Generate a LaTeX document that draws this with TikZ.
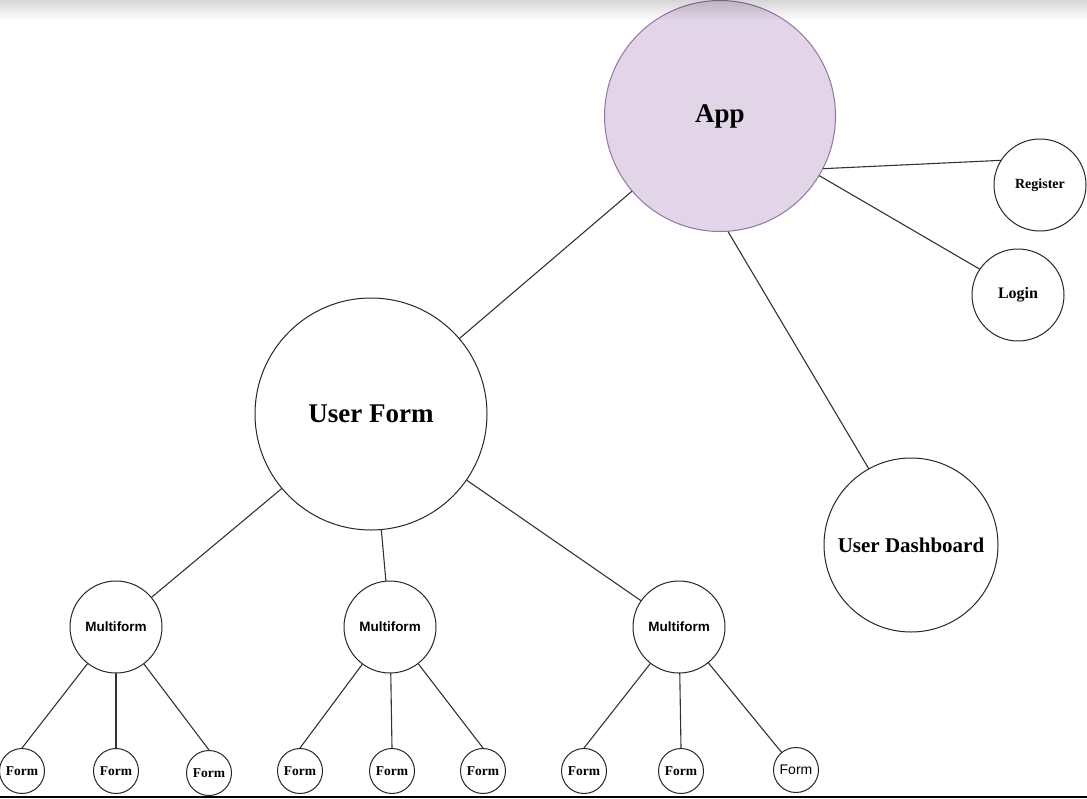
\documentclass[tikz,border=0pt]{standalone}
\usepackage{fontspec}
\setmainfont{Liberation Serif}
\newfontfamily\arialfont{Liberation Sans}
\definecolor{appfill}{HTML}{E1D5E7}
\definecolor{appline}{HTML}{9673A6}
\begin{document}
\begin{tikzpicture}[x=1pt, y=-1pt, line join=round, line cap=round,
    bubble/.style={circle, draw=black!85, line width=1pt, inner sep=0pt, fill=white},
    link/.style={draw=black!80, line width=1.1pt},
    formnode/.style={bubble, minimum size=45pt, font=\fontsize{13.5}{15}\selectfont\bfseries},
    multinode/.style={bubble, minimum size=92pt, font=\arialfont\fontsize{13.5}{15}\selectfont\bfseries}]
  \useasboundingbox (0,0) rectangle (1087,798);
  % main nodes
  \node[bubble, fill=appfill, draw=appline, minimum size=231pt, font=\fontsize{27}{30}\selectfont\bfseries] (app) at (720,116) {App};
  \node[bubble, minimum size=92pt, font=\fontsize{14}{16}\selectfont\bfseries] (register) at (1040,185) {Register};
  \node[bubble, minimum size=92pt, font=\fontsize{16}{18}\selectfont\bfseries] (login) at (1018,295) {Login};
  \node[bubble, minimum size=232pt, font=\fontsize{27}{30}\selectfont\bfseries] (userform) at (371,414) {User Form};
  \node[bubble, minimum size=174pt, font=\fontsize{21}{24}\selectfont\bfseries] (dashboard) at (911,545) {User Dashboard};
  \node[multinode] (multi1) at (116,627) {Multiform};
  \node[multinode] (multi2) at (390,627) {Multiform};
  \node[multinode] (multi3) at (679,627) {Multiform};
  % forms
  \node[formnode] (form1) at (22,771) {Form};
  \node[formnode] (form2) at (116,771) {Form};
  \node[formnode] (form3) at (209,773) {Form};
  \node[formnode] (form4) at (300,771) {Form};
  \node[formnode] (form5) at (392,771) {Form};
  \node[formnode] (form6) at (483,771) {Form};
  \node[formnode] (form7) at (584,771) {Form};
  \node[formnode] (form8) at (681,771) {Form};
  \node[formnode, font=\arialfont\fontsize{14}{16}\selectfont] (form9) at (796,770) {Form};
  % links
  \draw[link] (app) -- (userform);
  \draw[link] (app.-86) -- (dashboard.119);
  \draw[link] (app.-27) -- (register.148);
  \draw[link] (app.-31) -- (login.146);
  \draw[link] (userform) -- (multi1);
  \draw[link] (userform) -- (multi2);
  \draw[link] (userform) -- (multi3);
  \draw[link] (multi1) -- (form1.north);
  \draw[link] (multi1) -- (form2.north);
  \draw[link] (multi1) -- (form3.north);
  \draw[link] (multi2) -- (form4.north);
  \draw[link] (multi2) -- (form5.north);
  \draw[link] (multi2) -- (form6.north);
  \draw[link] (multi3) -- (form7.north);
  \draw[link] (multi3) -- (form8.north);
  \draw[link] (multi3) -- (form9);
  % top shade and bottom rule
  \foreach \i in {0,...,19}
    \fill[black, opacity={0.16*(1-\i/20)}] (0,\i) rectangle (1087,\i+1);
  \draw[line width=2pt, line cap=butt] (0,796.5) -- (1087,796.5);
\end{tikzpicture}
\end{document}
